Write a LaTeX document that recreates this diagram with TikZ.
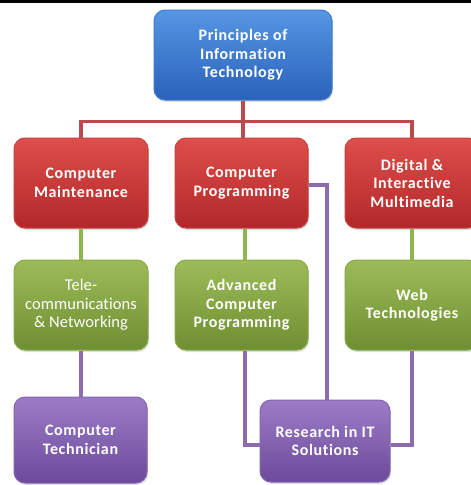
\documentclass[tikz,border=0pt]{standalone}
\usepackage{fontspec}
\newfontfamily\bx[LetterSpace=4,Ligatures=NoCommon]{Carlito}
\newfontfamily\cx[LetterSpace=0.5,Ligatures=NoCommon]{Carlito}
\usetikzlibrary{shadows}
\definecolor{bluetop}{HTML}{5596E4}
\definecolor{bluebot}{HTML}{2A62BA}
\definecolor{blueedge}{HTML}{3F7BD2}
\definecolor{redtop}{HTML}{DE4E4A}
\definecolor{redbot}{HTML}{B2282A}
\definecolor{rededge}{HTML}{C6403E}
\definecolor{greentop}{HTML}{9DBC58}
\definecolor{greenbot}{HTML}{6E8E32}
\definecolor{greenedge}{HTML}{88AA46}
\definecolor{purptop}{HTML}{9C7CC6}
\definecolor{purpbot}{HTML}{6C4A9C}
\definecolor{purpedge}{HTML}{8464B0}
\definecolor{redln}{HTML}{BA4A4C}
\definecolor{greenln}{HTML}{8FB54F}
\definecolor{purpln}{HTML}{8C6CAE}
\tikzset{
  box/.style={rounded corners=11pt, line width=1pt, text=white, align=center,
    font=\bx\bfseries\fontsize{16}{18.5}\selectfont, inner sep=0pt,
    minimum width=134pt, minimum height=90pt,
    drop shadow={opacity=0.25, shadow xshift=1pt, shadow yshift=-2pt}},
  condensed/.style={font=\cx\mdseries\fontsize{16.5}{18.5}\selectfont},
  bluebox/.style={box, draw=blueedge, top color=bluetop, bottom color=bluebot},
  redbox/.style={box, draw=rededge, top color=redtop, bottom color=redbot},
  greenbox/.style={box, draw=greenedge, top color=greentop, bottom color=greenbot},
  purpbox/.style={box, draw=purpedge, top color=purptop, bottom color=purpbot},
  redline/.style={draw=redln, line width=3.5pt},
  greenline/.style={draw=greenln, line width=3.5pt},
  purpline/.style={draw=purpln, line width=3.5pt},
}
\begin{document}
\begin{tikzpicture}[x=1pt,y=1pt]
\useasboundingbox (0,0) rectangle (471,-485);
\clip (0,0) rectangle (471,-485);
\fill[white] (0,0) rectangle (471,-485);
\fill[black] (0,0) rectangle (471,-3);

\node[bluebox, minimum width=178pt] (top) at (243,-55) {Principles of\\Information\\Technology};

\node[redbox] (rl) at (81,-183) {Computer\\Maintenance};
\node[redbox, minimum width=133pt] (rm) at (241.5,-183) {Computer\\Programming};
\node[redbox] (rr) at (412,-183) {Digital \&\\Interactive\\Multimedia};

\node[greenbox, condensed] (gl) at (81,-305) {Tele-\\communications\\\&~Networking};
\node[greenbox, minimum width=133pt] (gm) at (241.5,-305) {Advanced\\Computer\\Programming};
\node[greenbox] (gr) at (412,-305) {Web\\Technologies};

\node[purpbox, minimum width=133pt, minimum height=86pt] (pl) at (80.5,-440) {Computer\\Technician};
\node[purpbox, minimum width=130pt, minimum height=82pt] (res) at (325,-441) {Research in IT\\Solutions};

% red connectors
\draw[redline] (top.south) -- (top.south |- rm.north);
\draw[redline] (rl.north) -- ++(0,16) -| (rr.north);

% green connectors
\draw[greenline] (rl.south) -- (gl.north);
\draw[greenline] ([xshift=3.5pt]rm.south) -- ([xshift=3.5pt]gm.north);
\draw[greenline] (rr.south) -- (gr.north);

% purple connectors
\draw[purpline] (gl.south) -- (gl.south |- pl.north);
\draw[purpline] ([xshift=3.5pt]gm.south) |- ([yshift=-4pt]res.west);
\draw[purpline] (gr.south) |- ([yshift=-4pt]res.east);
\draw[purpline] ([yshift=-2pt]rm.east) -| ([xshift=2pt]res.north);
\end{tikzpicture}
\end{document}
